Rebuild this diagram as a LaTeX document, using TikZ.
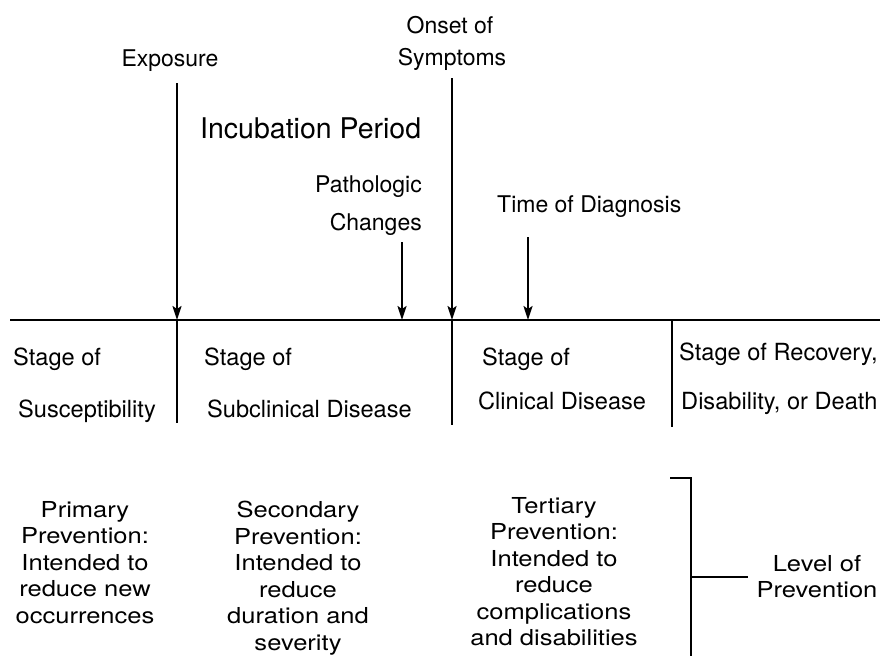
\documentclass[tikz,border=0pt]{standalone}
\usepackage{fontspec}
\setmainfont{TeX Gyre Heros}
\newfontfamily\widefont[FakeStretch=1.16]{TeX Gyre Heros}
\usetikzlibrary{arrows.meta}
\begin{document}
\begin{tikzpicture}[x=1pt,y=-1pt,
  lbl/.style={font=\fontsize{23}{28}\selectfont, inner sep=0pt},
  stg/.style={font=\fontsize{23.6}{28}\selectfont, inner sep=0pt, anchor=base west},
  big/.style={font=\fontsize{28.5}{34}\selectfont, inner sep=0pt},
  prev/.style={font=\widefont\fontsize{22}{26.5}\selectfont, align=center, inner sep=0pt, anchor=north},
  ln/.style={line width=2pt},
  arr/.style={ln, -{Stealth[length=14pt,width=9pt,inset=3pt]}}]
\useasboundingbox (0,0) rectangle (880,656);
% timeline
\coordinate (L) at (10,320);
\coordinate (R) at (880,320);
\draw[ln] (L) -- (R);
\coordinate (tE) at (177,320);
\coordinate (tP) at (402,320);
\coordinate (tO) at (452,320);
\coordinate (tD) at (528,320);
\coordinate (tR) at (672,320);
\coordinate (bE) at (177,423);
\coordinate (bO) at (452,425);
\coordinate (bR) at (672,427);
\coordinate (sE) at (177,83);
\coordinate (sP) at (402,242);
\coordinate (sO) at (452,78);
\coordinate (sD) at (528,237);
\draw[arr] (sE) -- (tE);
\draw[arr] (sP) -- (tP);
\draw[arr] (sO) -- (tO);
\draw[arr] (sD) -- (tD);
\draw[ln] (tE) -- (bE);
\draw[ln] (tO) -- (bO);
\draw[ln] (tR) -- (bR);
% top labels
\node[lbl, anchor=base] (exp) at (170,66) {Exposure};
\node[lbl, anchor=base] (ons1) at (450,33) {Onset of};
\node[lbl, anchor=base] (ons2) at (452,65) {Symptoms};
\node[big, anchor=base west] (inc) at (200,138) {Incubation Period};
\node[lbl, anchor=base east] (pat1) at (422,192) {Pathologic};
\node[lbl, anchor=base east] (pat2) at (422,230) {Changes};
\node[lbl, anchor=base west] (dia) at (497,212) {Time of Diagnosis};
% stage labels
\node[stg] (s1a) at (13,365) {Stage of};
\node[stg] (s1b) at (18,417) {Susceptibility};
\node[stg] (s2a) at (204,365) {Stage of};
\node[stg] (s2b) at (207,417) {Subclinical Disease};
\node[stg] (s3a) at (482,365) {Stage of};
\node[stg] (s3b) at (478,409) {Clinical Disease};
\node[stg] (s4a) at (679,360) {Stage of Recovery,};
\node[stg] (s4b) at (681,409) {Disability, or Death};
% prevention
\node[prev] (p1) at (85,501) {Primary\\Prevention:\\Intended to\\reduce new\\occurrences};
\node[prev] (p2) at (298,501) {Secondary\\Prevention:\\Intended to\\reduce\\duration and\\severity};
\node[prev] (p3) at (554,497) {Tertiary\\Prevention:\\Intended to\\reduce\\complications\\and disabilities};
\node[prev] (lev) at (817,555) {Level of\\Prevention};
% bracket
\coordinate (bt) at (670,478);
\coordinate (bc) at (691,478);
\coordinate (bb) at (691,656);
\coordinate (bm) at (691,577);
\coordinate (bs) at (748,577);
\draw[ln] (bt) -- (bc) -- (bb);
\draw[ln] (bm) -- (bs);
\end{tikzpicture}
\end{document}
